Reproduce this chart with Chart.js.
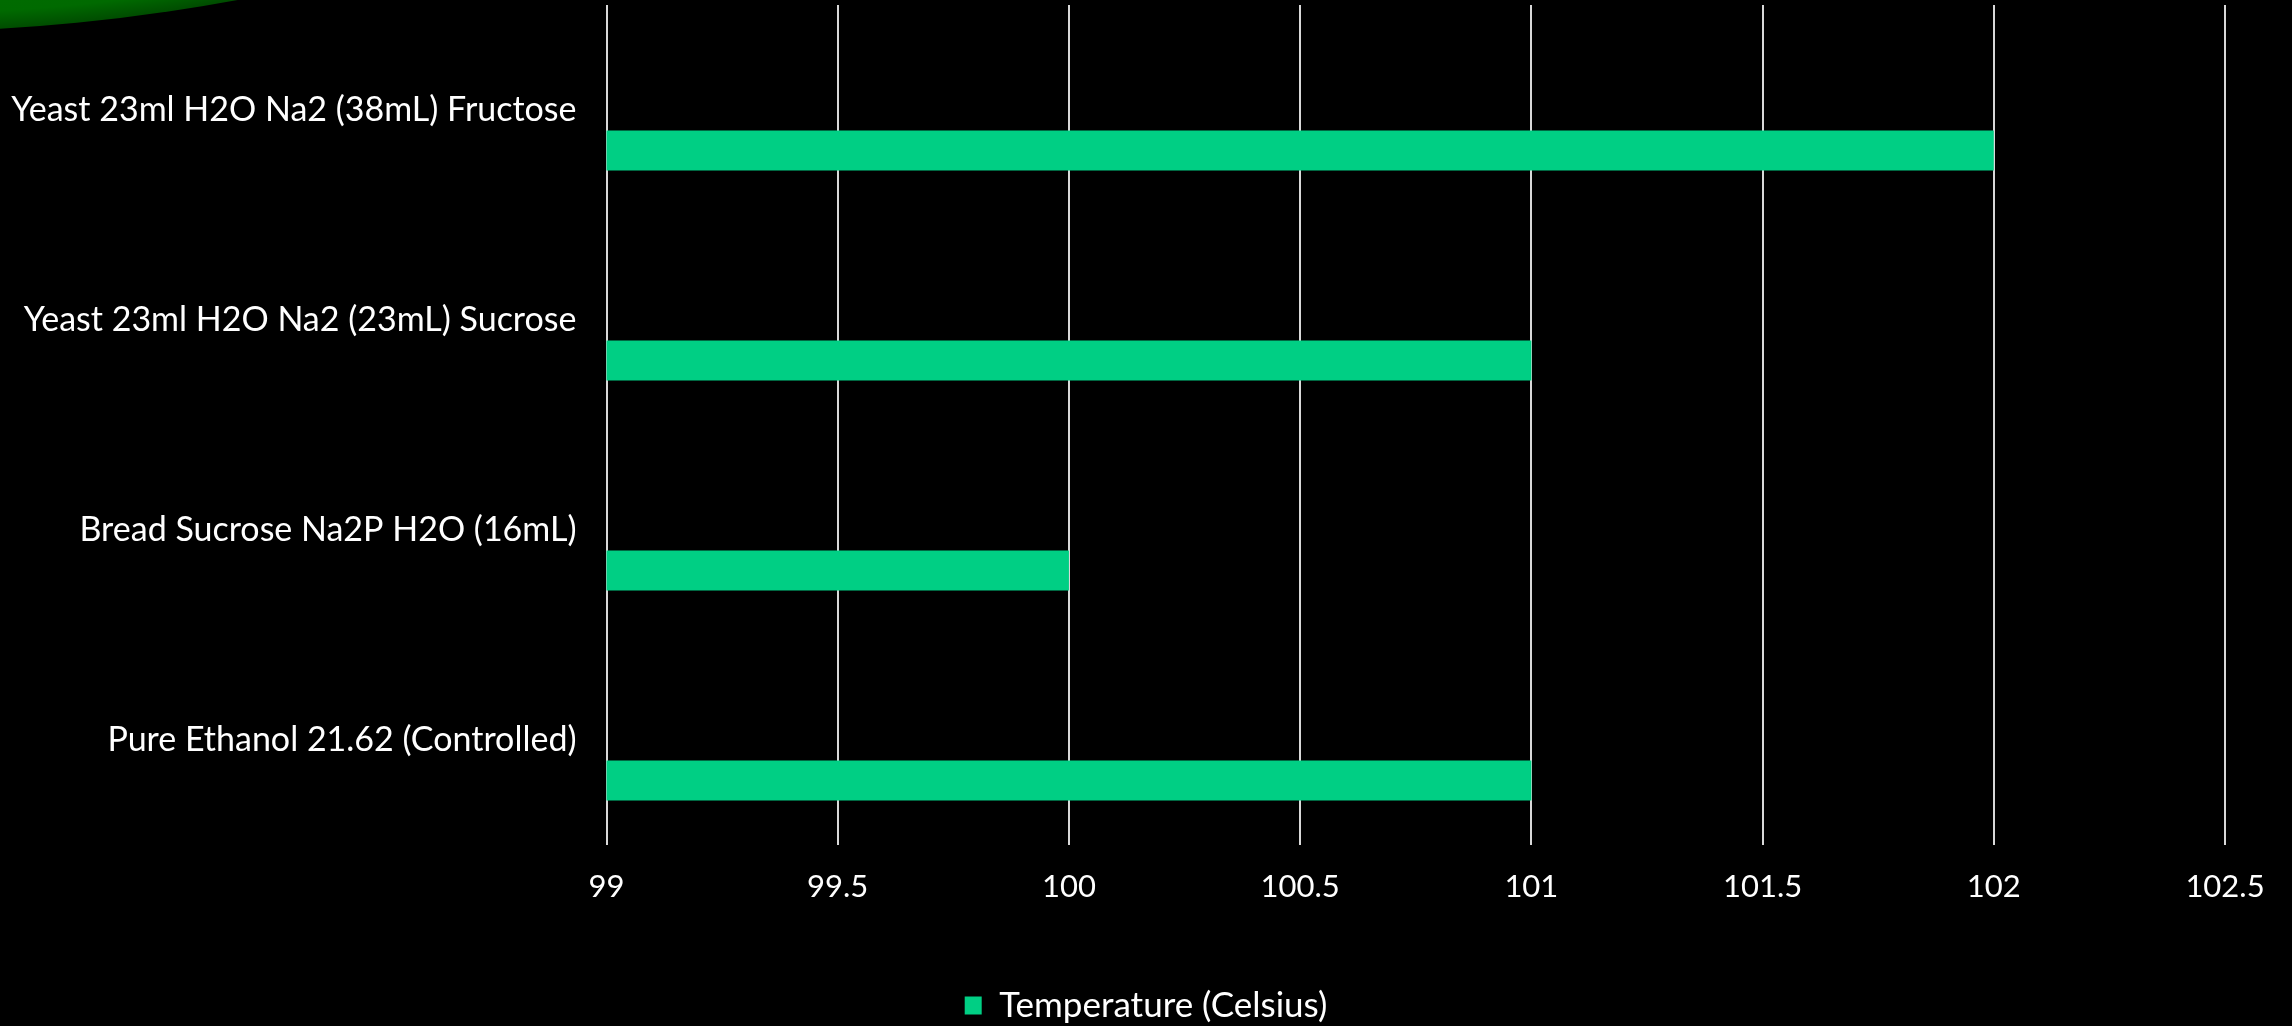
<!DOCTYPE html>
<html>
<head>
<meta charset="utf-8">
<script src="https://cdn.jsdelivr.net/npm/chart.js@4.4.1/dist/chart.umd.min.js"></script>
<style>
  html, body { margin: 0; padding: 0; background: #000; }
  #wrap { width: 2292px; height: 1026px; position: relative; }
</style>
</head>
<body>
<div id="wrap"><canvas id="c" width="2292" height="1026"></canvas></div>
<script>
const categories = [
  'Yeast 23ml H2O Na2 (38mL) Fructose',
  'Yeast 23ml H2O Na2 (23mL) Sucrose',
  'Bread Sucrose Na2P H2O (16mL)',
  'Pure Ethanol 21.62 (Controlled)'
];
const temperatureCelsius = [102, 101, 100, 101];
const seriesName = 'Temperature (Celsius)';
const xTicks = [99, 99.5, 100, 100.5, 101, 101.5, 102, 102.5];

const FONT = 'Lato, "Open Sans", sans-serif';
const BAR_COLOR = '#00cf84';
const PAD_BOTTOM = -7;

const bgPlugin = {
  id: 'bg',
  beforeDraw(chart) {
    const ctx = chart.ctx;
    ctx.save();
    ctx.fillStyle = '#000';
    ctx.fillRect(0, 0, chart.width, chart.height);
    const cx = -111, cy = -1883, R = 1915;
    const g = ctx.createRadialGradient(cx, cy, R - 120, cx, cy, R);
    g.addColorStop(0, '#007400');
    g.addColorStop(0.85, '#006a00');
    g.addColorStop(1, '#004c00');
    ctx.fillStyle = g;
    ctx.beginPath();
    ctx.arc(cx, cy, R, 0, Math.PI * 2);
    ctx.fill();
    ctx.restore();
  }
};

new Chart(document.getElementById('c'), {
  type: 'bar',
  data: {
    labels: categories,
    datasets: [
      { label: '', data: categories.map(() => null), backgroundColor: 'rgba(0,0,0,0)' },
      { label: seriesName, data: temperatureCelsius, backgroundColor: BAR_COLOR, borderWidth: 0 }
    ]
  },
  options: {
    indexAxis: 'y',
    responsive: false,
    animation: false,
    categoryPercentage: 0.7714,
    barPercentage: 0.494,
    layout: { padding: { top: 5, right: 0, left: 0, bottom: PAD_BOTTOM } },
    scales: {
      x: {
        min: 99, max: 102.5,
        afterBuildTicks(scale) { scale.ticks = xTicks.map(v => ({ value: v })); },
        grid: { color: '#d9d9d9', lineWidth: 2, drawTicks: false },
        border: { display: false },
        ticks: {
          color: '#ffffff', padding: 23,
          font: { family: FONT, size: 31 },
          callback: (v) => String(v)
        },
        afterFit(scale) {
          const lg = scale.chart.legend ? scale.chart.legend.height : 0;
          scale.height = 1026 - PAD_BOTTOM - 845 - lg;
          scale.paddingLeft = 0; scale.paddingRight = 67;
        }
      },
      y: {
        grid: { display: false, drawTicks: false },
        border: { display: false },
        ticks: { color: '#ffffff', padding: 30, font: { family: FONT, size: 34 } },
        afterFit(scale) {
          scale.width = 606.5;
          scale.paddingTop = 0; scale.paddingBottom = 0;
        }
      }
    },
    plugins: {
      legend: {
        position: 'bottom',
        labels: {
          color: '#ffffff',
          font: { family: FONT, size: 35 },
          boxWidth: 17, boxHeight: 18,
          padding: 2,
          filter: (item) => item.text !== ''
        }
      },
      tooltip: { enabled: false }
    }
  },
  plugins: [bgPlugin]
});
</script>
</body>
</html>
